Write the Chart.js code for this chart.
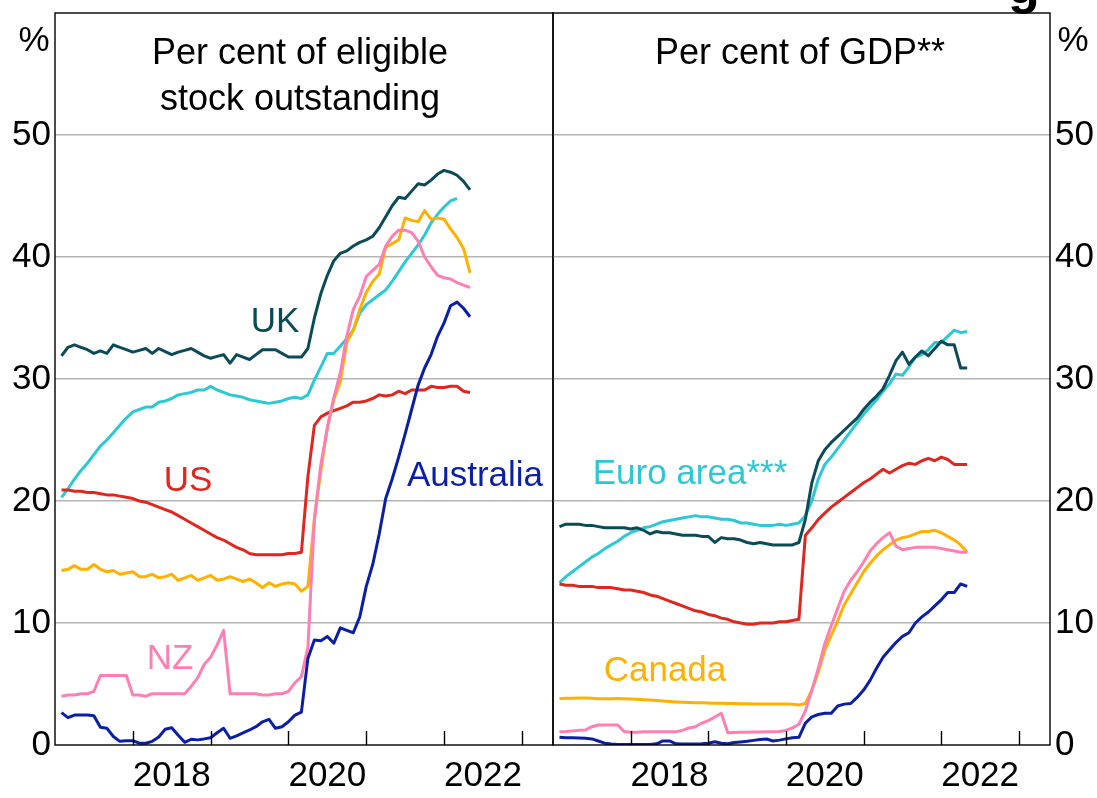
<!DOCTYPE html>
<html><head><meta charset="utf-8">
<script src="https://cdn.jsdelivr.net/npm/chart.js@4.4.1/dist/chart.umd.min.js"></script>
<style>
html,body{margin:0;padding:0;background:#fff;}
#wrap{position:relative;width:1097px;height:798px;overflow:hidden;font-family:"Liberation Sans",Arial,Helvetica,sans-serif;}
canvas{position:absolute;top:0;}
#c1{left:0;}
#c2{left:540px;}
.lbl{position:absolute;transform:translate(-50%,-50%);font-size:35px;line-height:1;white-space:nowrap;}
.ttl{position:absolute;transform:translate(-50%,0);font-size:36px;line-height:46px;text-align:center;white-space:nowrap;color:#000;}
</style></head>
<body>
<div id="wrap">
<canvas id="c1" width="560" height="798"></canvas>
<canvas id="c2" width="557" height="798"></canvas>
<div style="position:absolute;left:1008px;top:-41px;font-size:52px;line-height:1;font-weight:bold;color:#000;">g</div>
<div class="ttl" style="left:300px;top:29px;">Per cent of eligible<br>stock outstanding</div>
<div class="ttl" style="left:800px;top:29px;">Per cent of GDP**</div>
<div class="lbl" style="left:34px;top:38px;">%</div>
<div class="lbl" style="left:1073px;top:38px;">%</div>
<div id="labels"></div>
</div>
<script>
// ---- categories: month-end observations, Jan 2017 .. Apr 2022 ----
const startYear = 2017;
const monthCount = 64;
const xTickYears = [2018, 2019, 2020, 2021, 2022, 2023];
const xLabelYears = [2018, 2020, 2022];
const yTicks = [0, 10, 20, 30, 40, 50];

// ---- left panel: per cent of eligible stock outstanding ----
const ukShare = [31.9,32.6,32.8,32.6,32.4,32.1,32.3,32.1,32.8,32.6,32.4,32.2,32.35,32.5,32.1,32.5,32.25,32.0,32.2,32.35,32.5,32.2,31.9,31.7,31.85,32.0,31.3,32.0,31.8,31.6,32.0,32.4,32.4,32.4,32.1,31.8,31.8,31.8,32.5,35.0,37.0,38.5,39.7,40.3,40.5,40.9,41.2,41.4,41.7,42.4,43.3,44.2,44.9,44.8,45.4,46.0,45.9,46.3,46.8,47.1,46.95,46.7,46.2,45.5];
const euroShare = [20.3,21.0,21.8,22.5,23.1,23.8,24.5,25.0,25.6,26.2,26.8,27.3,27.5,27.7,27.7,28.1,28.2,28.4,28.7,28.8,28.9,29.1,29.1,29.4,29.1,28.9,28.7,28.6,28.5,28.3,28.2,28.1,28.0,28.1,28.2,28.4,28.5,28.4,28.7,29.9,31.0,32.1,32.1,32.7,33.3,34.0,35.4,36.1,36.5,36.9,37.3,38.0,38.8,39.6,40.3,41.0,41.8,42.8,43.5,44.1,44.6,44.8];
const usShare = [20.9,20.9,20.8,20.8,20.7,20.7,20.6,20.5,20.5,20.4,20.3,20.2,20.0,19.9,19.7,19.5,19.3,19.1,18.8,18.5,18.2,17.9,17.6,17.3,17.0,16.8,16.5,16.2,16.0,15.7,15.6,15.6,15.6,15.6,15.6,15.7,15.7,15.8,22.0,26.2,26.9,27.2,27.4,27.6,27.8,28.1,28.1,28.2,28.4,28.7,28.6,28.7,29.0,28.8,29.1,29.1,29.1,29.4,29.3,29.3,29.4,29.4,29.0,28.9];
const canShare = [14.3,14.4,14.7,14.4,14.4,14.8,14.4,14.2,14.3,14.0,14.1,14.2,13.8,13.8,14.0,13.7,13.8,14.0,13.5,13.7,13.9,13.5,13.7,13.9,13.5,13.6,13.8,13.6,13.4,13.6,13.3,12.9,13.3,13.0,13.2,13.3,13.2,12.6,13.0,18.5,22.5,26.0,28.3,29.8,33.0,34.0,35.7,37.1,38.0,38.6,40.8,41.1,41.4,43.2,43.0,42.9,43.8,43.1,43.2,43.1,42.3,41.6,40.7,38.7];
const nzShare = [4.0,4.1,4.1,4.2,4.2,4.4,5.7,5.7,5.7,5.7,5.7,4.1,4.1,4.0,4.2,4.2,4.2,4.2,4.2,4.2,4.8,5.5,6.6,7.2,8.2,9.4,4.2,4.2,4.2,4.2,4.2,4.1,4.1,4.2,4.2,4.4,5.1,5.6,8.0,18.5,23.0,26.0,28.5,30.5,33.5,35.7,36.8,38.4,38.9,39.4,40.9,41.7,42.2,42.2,42.0,41.3,40.0,39.2,38.5,38.3,38.2,37.9,37.7,37.5];
const ausShare = [2.65,2.24,2.45,2.45,2.45,2.4,1.45,1.37,0.7,0.3,0.35,0.35,0.15,0.14,0.3,0.65,1.29,1.42,0.8,0.22,0.47,0.42,0.5,0.6,1.0,1.37,0.55,0.75,1.0,1.23,1.5,1.9,2.1,1.37,1.5,1.9,2.45,2.7,7.1,8.6,8.55,8.9,8.35,9.6,9.4,9.2,10.5,13.0,14.8,17.3,20.2,21.8,23.6,25.5,27.5,29.5,30.9,32.0,33.5,34.6,36.0,36.3,35.8,35.1];

// ---- right panel: per cent of GDP ----
const ukGdp = [17.9,18.1,18.1,18.1,18.0,18.0,17.9,17.8,17.8,17.8,17.8,17.7,17.8,17.6,17.3,17.5,17.4,17.4,17.3,17.2,17.2,17.2,17.1,17.1,16.6,17.0,16.9,16.9,16.8,16.6,16.5,16.6,16.5,16.4,16.4,16.4,16.4,16.6,18.5,21.5,23.3,24.2,24.8,25.3,25.8,26.3,26.8,27.5,28.1,28.6,29.2,30.3,31.5,32.2,31.2,31.8,32.3,31.9,32.5,33.1,32.8,32.8,30.9,30.9];
const euroGdp = [13.3,13.8,14.2,14.6,15.0,15.4,15.7,16.1,16.4,16.7,17.1,17.4,17.6,17.8,17.9,18.1,18.3,18.4,18.5,18.6,18.7,18.8,18.7,18.7,18.6,18.5,18.5,18.4,18.2,18.2,18.1,18.0,18.0,18.0,18.1,18.0,18.1,18.2,18.8,20.0,21.8,23.0,23.6,24.3,25.0,25.7,26.4,27.1,27.7,28.3,29.0,29.6,30.4,30.3,31.0,31.8,32.0,32.4,33.0,33.0,33.5,34.0,33.8,33.9];
const usGdp = [13.2,13.1,13.1,13.0,13.0,13.0,12.9,12.9,12.9,12.8,12.7,12.7,12.6,12.5,12.3,12.2,12.0,11.8,11.6,11.4,11.2,11.0,10.9,10.7,10.6,10.4,10.3,10.1,10.0,9.9,9.9,10.0,10.0,10.0,10.1,10.1,10.2,10.3,17.2,17.8,18.5,19.0,19.5,19.9,20.3,20.7,21.1,21.5,21.8,22.2,22.6,22.3,22.6,22.9,23.1,23.0,23.3,23.5,23.3,23.6,23.4,23.0,23.0,23.0];
const canGdp = [3.8,3.83,3.83,3.85,3.85,3.83,3.8,3.8,3.8,3.82,3.8,3.77,3.74,3.71,3.68,3.65,3.61,3.57,3.53,3.5,3.48,3.47,3.46,3.45,3.43,3.42,3.41,3.4,3.39,3.38,3.37,3.37,3.36,3.36,3.36,3.36,3.35,3.28,3.4,4.5,6.0,7.8,9.0,10.2,11.5,12.4,13.3,14.2,14.9,15.5,16.0,16.4,16.8,17.0,17.1,17.3,17.5,17.5,17.6,17.4,17.1,16.8,16.4,15.8];
const nzGdp = [1.09,1.1,1.15,1.2,1.22,1.5,1.64,1.64,1.64,1.64,1.1,1.04,1.05,1.08,1.09,1.09,1.09,1.09,1.09,1.2,1.4,1.5,1.8,2.0,2.3,2.6,1.01,1.03,1.05,1.05,1.06,1.07,1.08,1.09,1.1,1.2,1.4,1.7,2.8,4.5,6.3,8.3,9.8,11.2,12.6,13.5,14.2,15.0,15.9,16.5,17.0,17.4,16.3,16.0,16.1,16.2,16.2,16.2,16.2,16.1,16.0,15.9,15.8,15.8];
const ausGdp = [0.63,0.6,0.6,0.58,0.55,0.5,0.33,0.15,0.08,0.05,0.05,0.05,0.05,0.05,0.05,0.1,0.33,0.33,0.1,0.08,0.08,0.08,0.1,0.15,0.27,0.15,0.1,0.2,0.25,0.3,0.38,0.45,0.49,0.33,0.4,0.5,0.6,0.63,1.8,2.3,2.5,2.6,2.6,3.2,3.35,3.4,3.9,4.5,5.3,6.3,7.2,7.8,8.4,8.9,9.2,10.0,10.5,10.9,11.4,11.9,12.5,12.5,13.2,13.0];

// ---- styles ----
const colors = {uk:'#0b4b58', euro:'#2cc8d4', us:'#e0261f', can:'#ffb000', nz:'#ff7fb4', aus:'#0a1fa6'};
const FONT = '"Liberation Sans", Arial, Helvetica, sans-serif';
const FS = 35;

// month-end x positions (decimal years)
const monthX = [];
for (let k = 0; k < monthCount; k++) monthX.push(startYear + (k + 1) / 12);
const toPts = arr => arr.map((v, i) => ({x: monthX[i], y: v}));

function ds(arr, color) {
  return {data: toPts(arr), borderColor: color, borderWidth: 3, pointRadius: 0, tension: 0, fill: false, borderJoinStyle: 'round'};
}

const framePlugin = {
  id: 'frame',
  afterDraw(chart) {
    const {ctx, chartArea: a, scales} = chart;
    ctx.save();
    ctx.strokeStyle = '#000';
    ctx.lineWidth = 1.4;
    ctx.strokeRect(a.left, a.top, a.right - a.left, a.bottom - a.top);
    ctx.beginPath();
    xTickYears.forEach(yr => {
      const px = Math.round(scales.x.getPixelForValue(yr)) + 0.5;
      ctx.moveTo(px, a.bottom);
      ctx.lineTo(px, a.bottom - 14);
    });
    ctx.stroke();
    ctx.restore();
  }
};

function makeChart(id, datasets, side) {
  const yWidth = side === 'left' ? 55 : 47;
  return new Chart(document.getElementById(id), {
    type: 'line',
    data: {datasets},
    plugins: [framePlugin],
    options: {
      responsive: false, animation: false, devicePixelRatio: 1,
      layout: {padding: side === 'left' ? {top: 13, right: 7, left: 0, bottom: 0} : {top: 13, left: 13, right: 0, bottom: 0}},
      plugins: {legend: {display: false}, tooltip: {enabled: false}},
      scales: {
        x: {
          type: 'linear', min: 2017, max: 2023.4,
          afterBuildTicks: s => { s.ticks = xLabelYears.map(v => ({value: v + 0.5})); },
          afterFit: s => { s.height = 53; s.paddingLeft = 0; s.paddingRight = 0; },
          grid: {display: false, drawTicks: false},
          border: {display: false},
          ticks: {color: '#000', font: {family: FONT, size: FS}, padding: 10, maxRotation: 0,
                  callback: v => String(Math.floor(v))}
        },
        y: {
          position: side, min: 0, max: 60,
          afterBuildTicks: s => { s.ticks = yTicks.map(v => ({value: v})); },
          afterFit: s => { s.width = yWidth; s.paddingTop = 0; s.paddingBottom = 0; },
          grid: {drawTicks: false, lineWidth: 1.5,
                 color: c => (c.tick && c.tick.value === 0) ? 'rgba(0,0,0,0)' : '#b4b4b4'},
          border: {display: false},
          ticks: {color: '#000', font: {family: FONT, size: FS}, padding: side === 'left' ? 4 : 5}
        }
      }
    }
  });
}

makeChart('c1', [
  ds(ausShare, colors.aus), ds(nzShare, colors.nz), ds(canShare, colors.can),
  ds(usShare, colors.us), ds(ukShare, colors.uk), ds(euroShare, colors.euro)
], 'left');
makeChart('c2', [
  ds(ausGdp, colors.aus), ds(nzGdp, colors.nz), ds(canGdp, colors.can),
  ds(usGdp, colors.us), ds(ukGdp, colors.uk), ds(euroGdp, colors.euro)
], 'right');

// series labels
const labels = [
  ['UK', colors.uk, 275, 319], ['US', colors.us, 188, 478], ['NZ', colors.nz, 170, 656],
  ['Australia', colors.aus, 475, 473], ['Euro area***', colors.euro, 690, 471], ['Canada', colors.can, 665, 668]
];
const box = document.getElementById('labels');
labels.forEach(([t, c, x, y]) => {
  const d = document.createElement('div');
  d.className = 'lbl'; d.textContent = t; d.style.color = c;
  d.style.left = x + 'px'; d.style.top = y + 'px';
  box.appendChild(d);
});
</script>
</body></html>
